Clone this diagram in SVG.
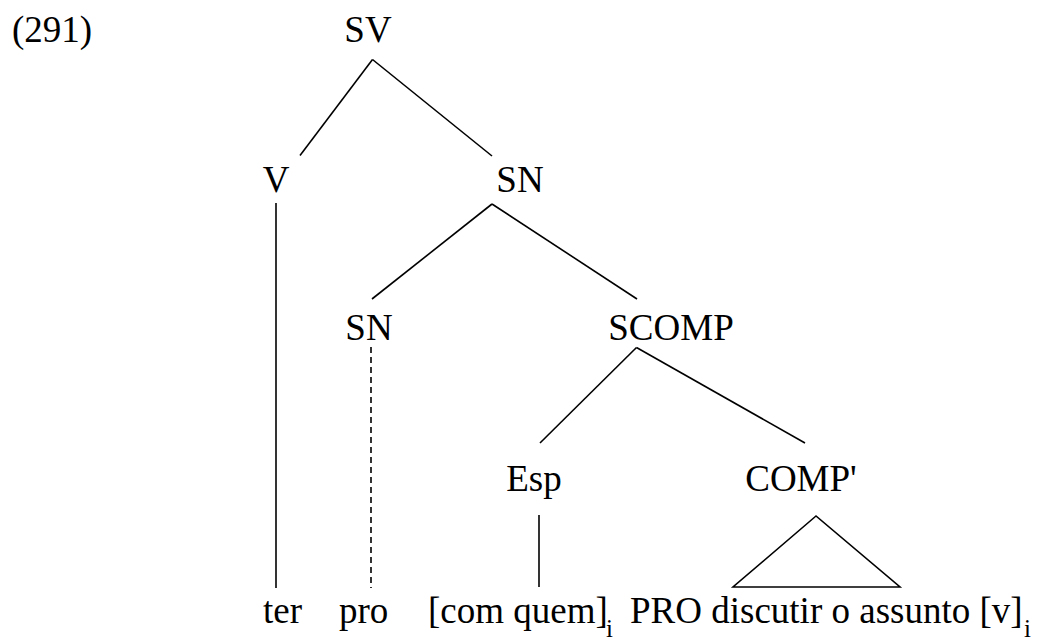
<svg xmlns="http://www.w3.org/2000/svg" width="1045" height="640" viewBox="0 0 1045 640">
<rect width="1045" height="640" fill="#fff"/>
<text x="12" y="42" font-family="Liberation Serif" font-size="37">(291)</text>
<g id="n-SV"><text x="368" y="42" font-family="Liberation Serif" font-size="37" text-anchor="middle">SV</text></g>
<g id="n-V"><text x="276" y="192" font-family="Liberation Serif" font-size="37" text-anchor="middle">V</text></g>
<g id="n-SN1"><text x="520" y="192" font-family="Liberation Serif" font-size="37" text-anchor="middle">SN</text></g>
<g id="n-SN2"><text x="369" y="340" font-family="Liberation Serif" font-size="37" text-anchor="middle">SN</text></g>
<g id="n-SCOMP"><text x="671" y="340" font-family="Liberation Serif" font-size="37" text-anchor="middle">SCOMP</text></g>
<g id="n-Esp"><text x="534" y="491" font-family="Liberation Serif" font-size="37" text-anchor="middle">Esp</text></g>
<g id="n-COMPb"><text x="801" y="491" font-family="Liberation Serif" font-size="37" text-anchor="middle">COMP'</text></g>
<g id="n-ter"><text x="263" y="623" font-family="Liberation Serif" font-size="37">ter</text></g>
<g id="n-pro"><text x="339" y="623" font-family="Liberation Serif" font-size="37">pro</text></g>
<g id="n-comquem"><text x="428" y="623" font-family="Liberation Serif" font-size="37">[com quem]</text><text x="606" y="637" font-family="Liberation Serif" font-size="25">i</text></g>
<g id="n-PRO"><text x="630" y="623" font-family="Liberation Serif" font-size="37">PRO discutir o assunto [v]</text><text x="1024" y="637" font-family="Liberation Serif" font-size="25">i</text></g>
<g id="connectors" stroke="#000" stroke-width="1.6" fill="none">
<line x1="372.5" y1="59.5" x2="300" y2="155.5"/>
<line x1="372.5" y1="59.5" x2="492" y2="156"/>
<line x1="276" y1="203" x2="276" y2="588"/>
<line x1="492" y1="204" x2="372" y2="299"/>
<line x1="492" y1="204" x2="637" y2="299"/>
<line x1="371" y1="347" x2="371" y2="588" stroke-dasharray="6 4"/>
<line x1="636.5" y1="347.5" x2="540" y2="443"/>
<line x1="636.5" y1="347.5" x2="805" y2="443"/>
<line x1="539" y1="515" x2="539" y2="587"/>
<polygon points="816,516 733,587 900,587"/>
</g>
</svg>
